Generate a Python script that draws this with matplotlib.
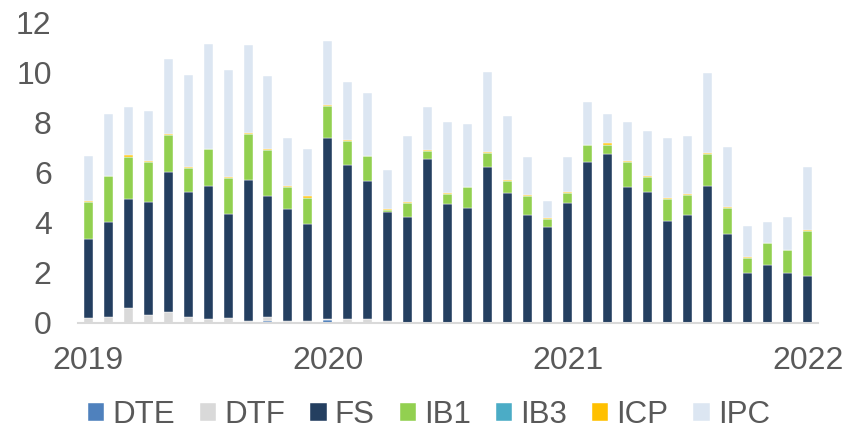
import matplotlib
matplotlib.use("Agg")
import matplotlib.pyplot as plt
import numpy as np

plt.rcParams["font.family"] = ["Liberation Sans", "DejaVu Sans"]

# monthly, Jan 2019 .. Jan 2022
months = [f"{y}-{m:02d}" for y in (2019, 2020, 2021) for m in range(1, 13)] + ["2022-01"]
tick_labels = ["2019", "2020", "2021", "2022"]

dte = [0, 0, 0, 0, 0, 0, 0, 0, 0, 0.05, 0, 0,
       0.10, 0, 0, 0, 0, 0, 0, 0, 0, 0, 0, 0,
       0, 0, 0, 0, 0, 0, 0, 0, 0, 0, 0, 0, 0]
dtf = [0.18, 0.24, 0.58, 0.31, 0.44, 0.21, 0.15, 0.20, 0.05, 0.19, 0.05, 0.05,
       0.05, 0.13, 0.15, 0.07, 0, 0, 0, 0, 0, 0, 0, 0,
       0, 0, 0, 0, 0, 0, 0, 0, 0, 0, 0, 0, 0]
fs = [3.17, 3.80, 4.37, 4.50, 5.60, 5.03, 5.30, 4.16, 5.67, 4.84, 4.50, 3.91,
      7.25, 6.18, 5.52, 4.36, 4.24, 6.55, 4.75, 4.57, 6.24, 5.20, 4.32, 3.84,
      4.80, 6.44, 6.76, 5.42, 5.24, 4.08, 4.32, 5.48, 3.53, 1.97, 2.29, 2.00, 1.88]
ib1 = [1.49, 1.81, 1.69, 1.63, 1.45, 0.96, 1.48, 1.43, 1.84, 1.83, 0.87, 1.04,
       1.25, 0.96, 0.98, 0.09, 0.56, 0.33, 0.41, 0.85, 0.56, 0.45, 0.76, 0.32,
       0.39, 0.65, 0.36, 0.99, 0.60, 0.87, 0.80, 1.28, 1.07, 0.60, 0.88, 0.89, 1.80]
ib3 = [0] * 37
icp = [0.03, 0.03, 0.08, 0.04, 0.04, 0.04, 0.03, 0.03, 0.04, 0.03, 0.03, 0.05,
       0.04, 0.04, 0.03, 0.02, 0.03, 0.02, 0.02, 0.02, 0.04, 0.06, 0.02, 0.02,
       0.02, 0.03, 0.05, 0.04, 0.04, 0.05, 0.04, 0.03, 0.03, 0.06, 0.02, 0.03, 0.03]
ipc = [1.80, 2.48, 1.91, 1.99, 3.00, 3.67, 4.19, 4.29, 3.50, 2.93, 1.95, 1.88,
       2.59, 2.32, 2.52, 1.57, 2.62, 1.73, 2.86, 2.52, 3.19, 2.54, 1.53, 0.69,
       1.42, 1.71, 1.19, 1.58, 1.79, 2.39, 2.31, 3.21, 2.38, 1.25, 0.83, 1.31, 2.53]

series = [("DTE", dte, "#4f81bd"), ("DTF", dtf, "#d9d9d9"), ("FS", fs, "#243f60"),
          ("IB1", ib1, "#92d050"), ("IB3", ib3, "#4bacc6"), ("ICP", icp, "#ffc000"),
          ("IPC", ipc, "#dce6f2")]

fig = plt.figure(figsize=(8.63, 4.33), dpi=100)
ax = fig.add_axes([0.0904, 0.2547, 0.8574, 0.6929])

x = np.arange(len(months))
bottom = np.zeros(len(months))
for name, vals, col in series:
    vals = np.array(vals, dtype=float)
    ax.bar(x, vals, 0.45, bottom=bottom, color=col, label=name,
           edgecolor="white", linewidth=0.3)
    bottom += vals

ax.set_xlim(-0.5, len(months) - 0.5)
ax.set_ylim(0, 12)
ax.set_yticks(range(0, 13, 2))
ax.set_xticks([0, 12, 24, 36])
ax.set_xticklabels(tick_labels)
for s in ["top", "right", "left"]:
    ax.spines[s].set_visible(False)
ax.spines["bottom"].set_color("#d9d9d9")
ax.spines["bottom"].set_linewidth(1.5)
ax.tick_params(axis="both", length=0, labelsize=23, labelcolor="#595959")
ax.tick_params(axis="y", pad=19)
ax.tick_params(axis="x", pad=17)

fig.legend(loc="center", bbox_to_anchor=(0.497, 0.042), ncol=7, frameon=False,
           fontsize=22.5, handlelength=0.52, handleheight=0.52, handletextpad=0.26,
           columnspacing=0.8, labelcolor="#595959", borderaxespad=0, borderpad=0)

fig.savefig("out.png", dpi=100)
